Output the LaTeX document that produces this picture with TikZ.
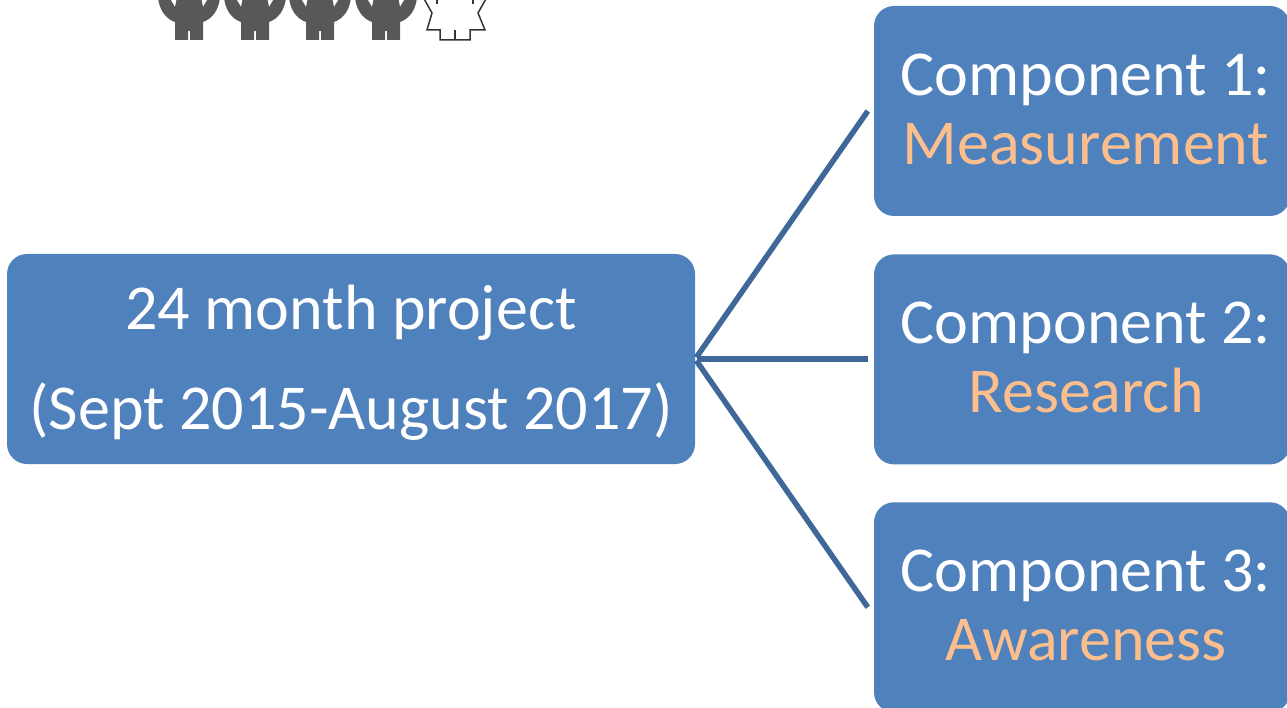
\documentclass[tikz,border=0pt]{standalone}
\usepackage{fontspec}
\setmainfont{Carlito}
\usetikzlibrary{positioning}
\definecolor{boxblue}{HTML}{4F81BD}
\definecolor{linkblue}{HTML}{3F6797}
\definecolor{labelorange}{HTML}{FBBE8C}
\definecolor{figgrey}{HTML}{58585A}
\newcommand{\complabel}[2]{\hspace*{8pt}#1\\\hspace*{8pt}\textcolor{labelorange}{#2}\rule[-4pt]{0pt}{4pt}}
\begin{document}
\begin{tikzpicture}[x=1pt,y=-1pt]
  \tikzset{BoxStyle/.style = {shape = rectangle,
                              rounded corners = 20pt,
                              fill = boxblue,
                              text = white,
                              align = center,
                              inner sep = 0pt,
                              minimum height = 210pt}}
  \tikzset{CompStyle/.style = {BoxStyle, minimum width = 416pt,
                               font = \fontsize{64}{69}\selectfont}}
  \tikzset{LinkStyle/.style = {draw = linkblue, line width = 5.5pt, shorten <=2pt}}
  \tikzset{DarkFigure/.pic = {
    \path[fill=figgrey] (-31,-3) .. controls (-30,10) and (-23,19) .. (-14,22) -- (-14,40) -- (-1,40) -- (-1,31) -- (1,31) -- (1,40) -- (14,40) -- (14,22)
       .. controls (23,19) and (30,10) .. (31,-3) -- (20,-3) -- (14,7) -- (12,-3) -- (-12,-3) -- (-14,7) -- (-20,-3) -- cycle;}}
  \useasboundingbox (0,0) rectangle (1287,708);
  %%% LEFT BOX %%%
  \node[BoxStyle, minimum width=688pt, font=\fontsize{64}{100}\selectfont] (project) at (351,359)
     {\rule{0pt}{51pt}24 month project\\(Sept 2015-August 2017)};
  %%% RIGHT BOXES %%%
  \node[CompStyle] (comp1) at (1082,111) {\complabel{Component 1:}{Measurement}};
  \node[CompStyle, below=38pt of comp1] (comp2) {\complabel{Component 2:}{Research}};
  \node[CompStyle, below=37.5pt of comp2] (comp3) {\complabel{Component 3:}{Awareness}};
  %%% LINKS %%%
  \draw[LinkStyle] (project.east) -- ([xshift=-6pt]comp1.west);
  \draw[LinkStyle] (project.east) -- ([xshift=-6pt]project.east -| comp2.west);
  \draw[LinkStyle] (project.east) -- ([xshift=-6pt]comp3.west);
  %%% FIGURES %%%
  \foreach \xpos in {189,255,320,386}
    \pic at (\xpos,0) {DarkFigure};
  \draw[line width=1.5pt, fill=white, draw=black!80] (423,-3) -- (432,13) -- (427,30) -- (440,30) -- (440,40) -- (470,40) -- (470,30) -- (485,30) -- (478,13) -- (487,-3);
  \draw[line width=1.5pt, draw=black!80] (455,30) -- (455,40);
  \draw[line width=2pt, draw=black!80] (437,-1) -- (437,4);
  \draw[line width=2pt, draw=black!80] (473,-1) -- (473,4);
\end{tikzpicture}
\end{document}
